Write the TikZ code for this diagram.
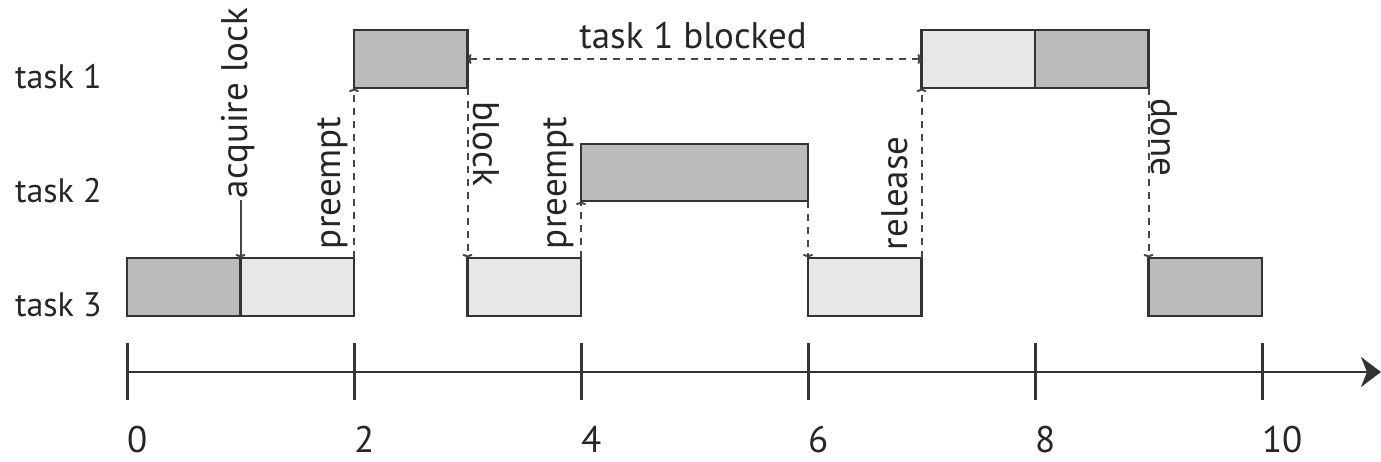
\documentclass[tikz,border=0pt]{standalone}
\usepackage{fontspec}
\setmainfont{PT Sans}
\usetikzlibrary{arrows.meta}
\definecolor{darkbox}{RGB}{187,187,187}
\definecolor{lightbox}{RGB}{230,231,233}
\definecolor{edgecol}{RGB}{51,51,51}
\definecolor{dashcol}{RGB}{70,70,70}
\begin{document}
\begin{tikzpicture}[x=1pt,y=-1pt,
  taskbox/.style={draw=edgecol,line width=2.5pt,inner sep=0pt,outer sep=0pt,minimum height=58pt},
  darkfill/.style={fill=darkbox},
  lightfill/.style={fill=lightbox},
  oneunit/.style={minimum width=113.5pt},
  twounit/.style={minimum width=227pt},
  txt/.style={font=\fontsize{37}{42}\selectfont,text=black!85,inner sep=0pt,outer sep=0pt},
  rowtxt/.style={font=\fontsize{34}{40}\selectfont,text=black!85,inner sep=0pt,outer sep=0pt},
  event/.style={dashcol,line width=2pt,dash pattern=on 7pt off 6pt,-{To[length=4pt,width=10pt]}},
  solidev/.style={dashcol,line width=2pt,-{To[length=4pt,width=10pt]}},
  axisline/.style={edgecol,line width=2.5pt},
  tickline/.style={edgecol,line width=3pt}]
\useasboundingbox (0,0) rectangle (1381,461);
% task 1
\node[taskbox,darkfill,oneunit] (t1a) at (410.75,59) {};
\node[taskbox,lightfill,oneunit] (t1b) at (978.25,59) {};
\node[taskbox,darkfill,oneunit] (t1c) at (1091.75,59) {};
% task 2
\node[taskbox,darkfill,twounit,minimum height=57pt] (t2) at (694.5,172.5) {};
% task 3
\node[taskbox,darkfill,oneunit] (t3a) at (183.75,287) {};
\node[taskbox,lightfill,oneunit] (t3b) at (297.25,287) {};
\node[taskbox,lightfill,oneunit] (t3c) at (524.25,287) {};
\node[taskbox,lightfill,oneunit] (t3d) at (864.75,287) {};
\node[taskbox,darkfill,oneunit] (t3e) at (1205.25,287) {};
% row labels
\node[rowtxt,anchor=base west] (l1) at (15,88) {task 1};
\node[rowtxt,anchor=base west] (l2) at (15,202) {task 2};
\node[rowtxt,anchor=base west] (l3) at (15,316) {task 3};
% acquire lock
\coordinate (acq) at (240.5,200);
\draw[solidev] (acq) -- (t3a.north east);
\node[txt,rotate=90,anchor=west] (lacq) at (238,198) {acquire lock};
% events
\draw[event] (t3b.north east) -- (t1a.south west);
\node[txt,rotate=90,anchor=south west] (lpre1) at (348,249) {preempt};
\draw[event] (t1a.south east) -- (t3c.north west);
\node[txt,rotate=-90,anchor=south west] (lblock) at (473,101) {block};
\draw[event] (t3c.north east) -- (t2.south west);
\node[txt,rotate=90,anchor=south west] (lpre2) at (574,249) {preempt};
\draw[event] (t2.south east) -- (t3d.north west);
\draw[event] (t3d.north east) -- (t1b.south west);
\node[txt,rotate=90,anchor=south west] (lrel) at (908,250) {release};
\draw[event] (t1c.south east) -- (t3e.north west);
\node[txt,rotate=-90,anchor=south west] (ldone) at (1151,98) {done};
% blocked interval
\draw[event,{To[length=4pt,width=10pt]}-{To[length=4pt,width=10pt]}] (t1a.east) -- (t1b.west);
\node[txt,anchor=base] (lblk) at (693,48) {task 1 blocked};
% time axis
\coordinate (ax0) at (127,372);
\coordinate (ax1) at (1381,372);
\draw[axisline,-{Stealth[length=20pt,width=30pt,inset=6pt]}] (ax0) -- (ax1);
\foreach \t in {0,2,4,6,8,10}{
  \draw[tickline] ({127+113.5*\t},343) -- ({127+113.5*\t},400);
  \node[txt,anchor=base west] (n\t) at ({127+113.5*\t},452) {\t};
}
\end{tikzpicture}
\end{document}
